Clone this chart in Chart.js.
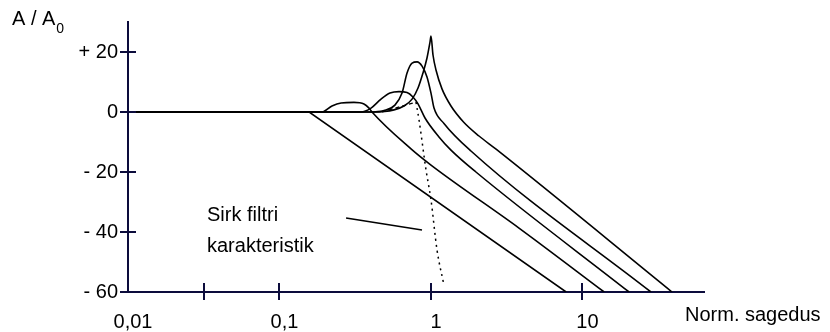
<!DOCTYPE html>
<html lang="et">
<head>
  <meta charset="UTF-8" />
  <title>Sirk filtri karakteristik</title>
  <script src="https://cdn.jsdelivr.net/npm/chart.js"></script>
  <style>
    body { margin: 0; background: #fff; }
  </style>
</head>
<body>
  <canvas id="filterChart" width="830" height="332"></canvas>

  <script>
    // axis ticks
    const xTicks = [0.01, 0.0316, 0.1, 1, 10];
    const xTickLabels = ["0,01", "", "0,1", "1", "10"];
    const yTicks = [-60, -40, -20, 0, 20];
    const yTickLabels = ["- 60", "- 40", "- 20", "0", "+ 20"];

    // curves: normalised frequency / gain in dB
    const c1Freq = [0.01, 0.157, 7.8];
    const c1Gain = [0, 0, -60];

    const c2Freq = [0.01, 0.191, 0.222, 0.255, 0.31, 0.361, 0.39, 0.408, 0.738, 1.0, 3.81, 13.9];
    const c2Gain = [0, 0, 2, 3, 3.2, 2.7, 1.3, 0, -12.3, -17.7, -38.7, -60];

    const c3Freq = [0.01, 0.345, 0.402, 0.468, 0.536, 0.615, 0.695, 0.76, 0.821, 0.913, 1.129, 1.355, 1.98, 20.3];
    const c3Gain = [0, 0, 1.3, 4.3, 6.3, 6.8, 6.5, 5, 2.7, -2, -8.3, -12.7, -20, -60];

    const c4Freq = [0.01, 0.39, 0.49, 0.578, 0.644, 0.695, 0.75, 0.809, 0.873, 0.941, 1.0, 1.047, 1.218, 1.836, 28.3];
    const c4Gain = [0, 0, 0.5, 2.3, 6.3, 13, 16.3, 16.7, 15.3, 11.7, 6.3, 1.3, -3.8, -13, -60];

    const c5Freq = [0.01, 0.42, 0.57, 0.663, 0.75, 0.821, 0.885, 0.941, 0.985, 1.0, 1.031, 1.079, 1.182, 1.355, 1.651, 2.074, 2.69, 39];
    const c5Gain = [0, 0, 0.7, 2, 4.3, 8, 13, 18, 23.3, 25.3, 19, 14, 7.7, 2, -3.5, -8, -12.4, -60];

    // "sirk" characteristic (dashed + dotted)
    const sirkDashFreq = [0.475, 0.796];
    const sirkDashGain = [0, 3.3];
    const sirkDotFreq = [0.796, 0.834, 0.927, 1.0, 1.096, 1.218];
    const sirkDotGain = [3.3, -2.7, -19.3, -29.3, -46, -57.7];

    // pointer from the annotation text
    const pointerFreq = [0.275, 0.872];
    const pointerGain = [-35.3, -39.3];

    const FONT = "'Liberation Sans', Arial, sans-serif";
    const AXIS_COLOR = "#0c0c3c";

    function pts(fs, gs) {
      return fs.map((f, i) => ({ x: f, y: gs[i] }));
    }

    function curve(fs, gs, extra) {
      return Object.assign({
        data: pts(fs, gs),
        borderColor: "#000",
        borderWidth: 1.6,
        pointRadius: 0,
        fill: false,
        cubicInterpolationMode: "monotone"
      }, extra || {});
    }

    // tick marks crossing the axes + free texts
    const decorPlugin = {
      id: "decor",
      afterDraw(chart) {
        const ctx = chart.ctx;
        const xs = chart.scales.x, ys = chart.scales.y;
        const area = chart.chartArea;
        ctx.save();
        ctx.strokeStyle = AXIS_COLOR;
        ctx.lineWidth = 2;
        ctx.beginPath();
        yTicks.forEach(v => {
          const y = Math.round(ys.getPixelForValue(v));
          ctx.moveTo(area.left - 8, y);
          ctx.lineTo(area.left + 8, y);
        });
        xTicks.slice(1).forEach(v => {
          const x = Math.round(xs.getPixelForValue(v));
          ctx.moveTo(x, area.bottom - 9);
          ctx.lineTo(x, area.bottom + 8);
        });
        ctx.stroke();

        ctx.fillStyle = "#000";
        ctx.textBaseline = "alphabetic";
        ctx.font = "20px " + FONT;
        ctx.fillText("A / A", 12, 25);
        const w = ctx.measureText("A / A").width;
        ctx.font = "14px " + FONT;
        ctx.fillText("0", 12 + w + 1, 33);

        ctx.font = "20px " + FONT;
        ctx.fillText("Norm. sagedus", 685, 321);
        ctx.fillText("Sirk filtri", 207, 221);
        ctx.fillText("karakteristik", 207, 252);
        ctx.restore();
      }
    };

    new Chart(document.getElementById("filterChart"), {
      type: "line",
      data: {
        datasets: [
          curve(c1Freq, c1Gain, { cubicInterpolationMode: "default", tension: 0 }),
          curve(c2Freq, c2Gain),
          curve(c3Freq, c3Gain),
          curve(c4Freq, c4Gain),
          curve(c5Freq, c5Gain),
          curve(sirkDashFreq, sirkDashGain, { borderWidth: 1.3, borderDash: [4, 3], cubicInterpolationMode: "default", tension: 0 }),
          curve(sirkDotFreq, sirkDotGain, { borderWidth: 1.5, borderDash: [2, 4] }),
          curve(pointerFreq, pointerGain, { borderWidth: 1.5, cubicInterpolationMode: "default", tension: 0 })
        ]
      },
      options: {
        responsive: false,
        animation: false,
        events: [],
        layout: { padding: { left: 0, right: 126, top: 22, bottom: 0 } },
        plugins: { legend: { display: false }, tooltip: { enabled: false } },
        scales: {
          x: {
            type: "logarithmic",
            min: 0.01,
            max: 63.4,
            afterFit(scale) { scale.height = 40; },
            afterBuildTicks(scale) { scale.ticks = xTicks.map(v => ({ value: v })); },
            grid: { display: false, drawTicks: false },
            border: { color: AXIS_COLOR, width: 2 },
            ticks: {
              autoSkip: false,
              maxRotation: 0,
              padding: 18,
              labelOffset: 5,
              color: "#000",
              font: { size: 20, family: FONT },
              callback: (v, i) => xTickLabels[i]
            }
          },
          y: {
            type: "linear",
            min: -60,
            max: 30,
            afterFit(scale) { scale.width = 128; },
            afterBuildTicks(scale) { scale.ticks = yTicks.map(v => ({ value: v })); },
            grid: { display: false, drawTicks: false },
            border: { color: AXIS_COLOR, width: 2 },
            ticks: {
              padding: 10,
              color: "#000",
              font: { size: 20, family: FONT },
              callback: (v, i) => yTickLabels[i]
            }
          }
        }
      },
      plugins: [decorPlugin]
    });
  </script>
</body>
</html>
